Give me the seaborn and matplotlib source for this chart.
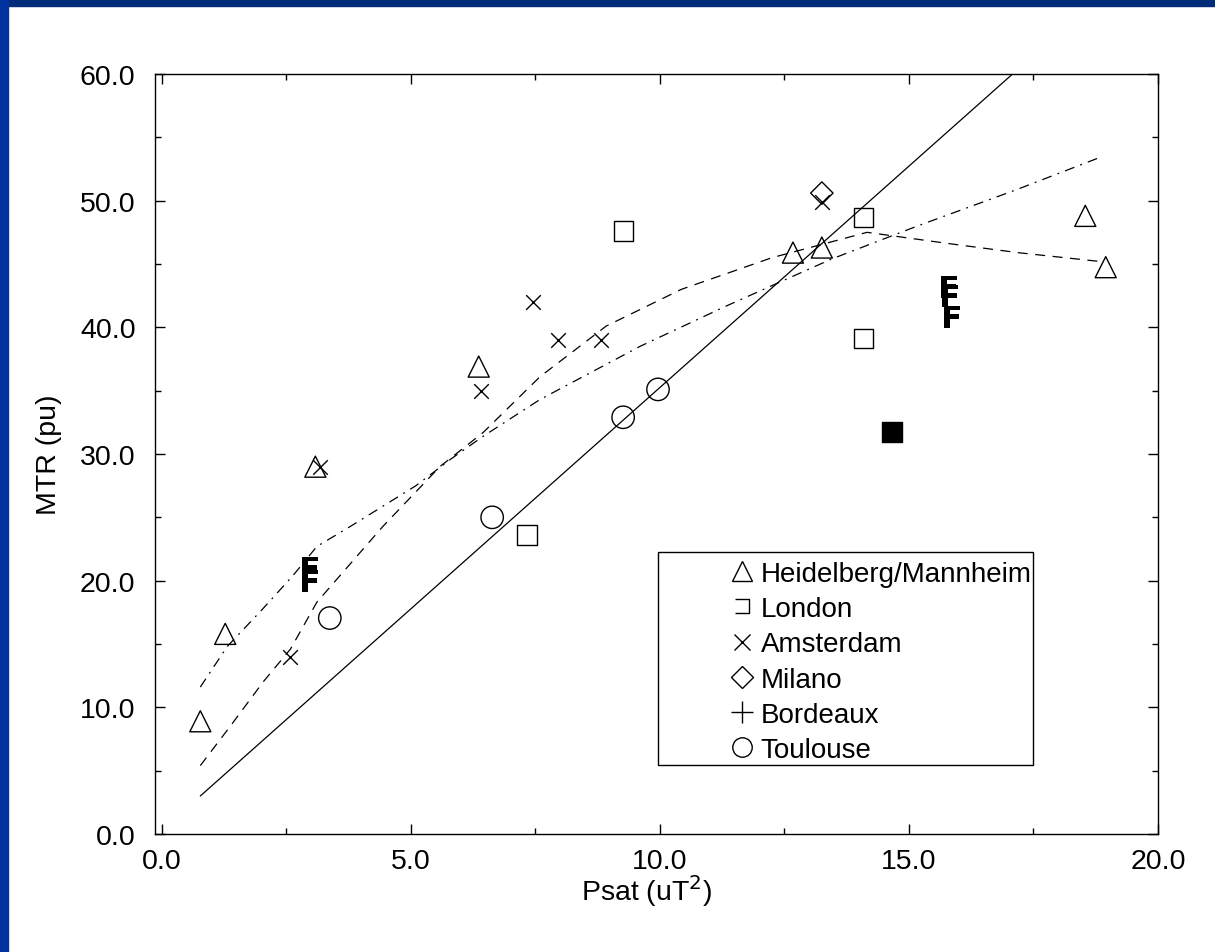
import numpy as np
import pandas as pd
import matplotlib
matplotlib.use("Agg")
import matplotlib.pyplot as plt
import seaborn as sns
from matplotlib.lines import Line2D
from matplotlib.patches import Rectangle
from matplotlib.path import Path
from matplotlib.ticker import MultipleLocator, FormatStrFormatter

# ---------------- data ----------------
heid_x = [0.77, 1.27, 3.08, 6.36, 12.67, 13.25, 18.54, 18.95]
heid_y = [8.9, 15.8, 29.0, 36.9, 45.9, 46.3, 48.8, 44.75]

lon_x = [9.26, 7.33, 14.08, 14.08]
lon_y = [47.6, 23.6, 48.7, 39.1]

lon_filled_x = [14.66]
lon_filled_y = [31.7]

ams_x = [2.58, 3.18, 6.41, 7.45, 7.96, 8.82, 13.25]
ams_y = [14.0, 29.0, 35.0, 42.0, 39.0, 39.0, 49.9]

mil_x = [13.25]
mil_y = [50.6]

bor_x = [2.98, 2.98, 15.80, 15.82, 15.87]
bor_y = [21.0, 20.0, 43.2, 42.5, 40.8]

tou_x = [3.37, 6.63, 9.26, 9.96]
tou_y = [17.05, 25.0, 32.9, 35.1]

fit_x = [0.77, 17.08]
fit_y = [3.0, 60.0]

dash_x = [0.77, 1.37, 2.03, 2.58, 3.11, 4.04, 4.44, 5.58, 6.45, 7.59, 8.92,
          10.43, 12.25, 14.16, 15.82, 17.18, 18.83]
dash_y = [5.4, 8.5, 12.0, 14.6, 18.3, 22.5, 24.3, 29.0, 31.7, 36.1, 40.1,
          43.0, 45.5, 47.5, 46.6, 45.9, 45.2]

dashdot_x = [0.77, 1.31, 2.03, 2.63, 3.11, 3.79, 5.10, 5.80, 6.45, 7.59, 9.60,
             11.34, 13.45, 15.17, 17.18, 18.89]
dashdot_y = [11.6, 14.8, 17.8, 20.4, 22.7, 24.3, 27.5, 29.6, 31.4, 34.3, 38.5,
             41.7, 45.4, 48.0, 50.9, 53.5]

legend_labels = ["Heidelberg/Mannheim", "London", "Amsterdam", "Milano",
                 "Bordeaux", "Toulouse"]

x_ticks = [0, 5, 10, 15, 20]
y_ticks = [0, 10, 20, 30, 40, 50, 60]

# ---------------- style ----------------
sns.set_theme(style="white")
plt.rcParams["font.family"] = ["Liberation Sans", "DejaVu Sans"]

fig = plt.figure(figsize=(12.15, 9.53), dpi=100)
fig.patch.set_facecolor("white")
ax = fig.add_axes([155 / 1215, 1 - 835 / 953, 1003 / 1215, 760 / 953])

# blue frame strips (slide border)
fig.add_artist(Rectangle((0, 1 - 7 / 953), 1, 7 / 953, transform=fig.transFigure,
                         color="#002a7a", zorder=0))
fig.add_artist(Rectangle((0, 0), 8 / 1215, 1, transform=fig.transFigure,
                         color="#0033a0", zorder=0))

# open-bracket marker for London legend
bracket = Path([(-1, 1), (1, 1), (1, -1), (-1, -1)],
               [Path.MOVETO, Path.LINETO, Path.LINETO, Path.LINETO])

# ---------------- lines ----------------
sns.lineplot(x=fit_x, y=fit_y, ax=ax, color="black", lw=0.9, sort=False,
             estimator=None)
sns.lineplot(x=dash_x, y=dash_y, ax=ax, color="black", lw=0.9, sort=False,
             estimator=None, linestyle=(0, (8, 6)))
sns.lineplot(x=dashdot_x, y=dashdot_y, ax=ax, color="black", lw=0.9, sort=False,
             estimator=None, linestyle=(0, (8, 5, 1.5, 5)))

# ---------------- points ----------------
sns.scatterplot(x=heid_x, y=heid_y, ax=ax, marker="^", s=230,
                facecolor="none", edgecolor="black", linewidth=1.0, zorder=3)
sns.scatterplot(x=lon_x, y=lon_y, ax=ax, marker="s", s=190,
                facecolor="none", edgecolor="black", linewidth=1.0, zorder=3)
sns.scatterplot(x=lon_filled_x, y=lon_filled_y, ax=ax, marker="s", s=190,
                color="black", edgecolor="black", linewidth=1.0, zorder=3)
sns.scatterplot(x=ams_x, y=ams_y, ax=ax, marker="x", s=110,
                color="black", linewidth=1.0, zorder=3)
sns.scatterplot(x=mil_x, y=mil_y, ax=ax, marker="D", s=130,
                facecolor="none", edgecolor="black", linewidth=1.0, zorder=3)
sns.scatterplot(x=bor_x, y=bor_y, ax=ax, marker=r"$\mathbf{F}$", s=260,
                color="black", linewidth=0, zorder=3)
sns.scatterplot(x=tou_x, y=tou_y, ax=ax, marker="o", s=260,
                facecolor="none", edgecolor="black", linewidth=1.0, zorder=3)

# ---------------- axes ----------------
ax.set_xlim(-0.14, 20.0)
ax.set_ylim(0, 60)
ax.set_xticks(x_ticks)
ax.set_yticks(y_ticks)
ax.xaxis.set_minor_locator(MultipleLocator(2.5))
ax.yaxis.set_minor_locator(MultipleLocator(5))
ax.xaxis.set_major_formatter(FormatStrFormatter("%.1f"))
ax.yaxis.set_major_formatter(FormatStrFormatter("%.1f"))
ax.tick_params(which="both", direction="in", top=True, right=True,
               bottom=True, left=True, colors="black", labelsize=20.5)
ax.tick_params(which="major", length=7, width=1)
ax.tick_params(which="minor", length=4, width=1)
ax.tick_params(axis="y", pad=14)
ax.tick_params(axis="x", pad=10)
for sp in ax.spines.values():
    sp.set_color("black")
    sp.set_linewidth(1.0)
ax.grid(False)

ax.set_xlabel(r"Psat (uT$^2$)", fontsize=20.5, color="black")
ax.set_ylabel("MTR (pu)", fontsize=20.5, color="black")
ax.xaxis.set_label_coords(0.49, -0.05)
ax.yaxis.set_label_coords(-0.093, 0.5)

# ---------------- legend ----------------
handles = [
    Line2D([], [], ls="none", marker="^", ms=14, mfc="none", mec="black", mew=1),
    Line2D([], [], ls="none", marker=bracket, ms=10, mfc="none", mec="black", mew=1),
    Line2D([], [], ls="none", marker="x", ms=11, mec="black", mew=1),
    Line2D([], [], ls="none", marker="D", ms=11, mfc="none", mec="black", mew=1),
    Line2D([], [], ls="none", marker="+", ms=16, mec="black", mew=1),
    Line2D([], [], ls="none", marker="o", ms=14, mfc="none", mec="black", mew=1),
]
leg = ax.legend(handles, legend_labels, loc="upper left",
                bbox_to_anchor=((730 - 155) / 1003, (835 - 562) / 760),
                frameon=False, fontsize=20, borderpad=0, borderaxespad=0,
                handlelength=0.85, handletextpad=0.25, labelspacing=0.33)
for t in leg.get_texts():
    t.set_color("black")

ax.add_patch(Rectangle(((658 - 155) / 1003, (835 - 766) / 760),
                       (1033 - 658) / 1003, (766 - 553) / 760,
                       transform=ax.transAxes, fill=False, ec="black", lw=1.0,
                       zorder=4))

fig.savefig("out.png", dpi=100)
